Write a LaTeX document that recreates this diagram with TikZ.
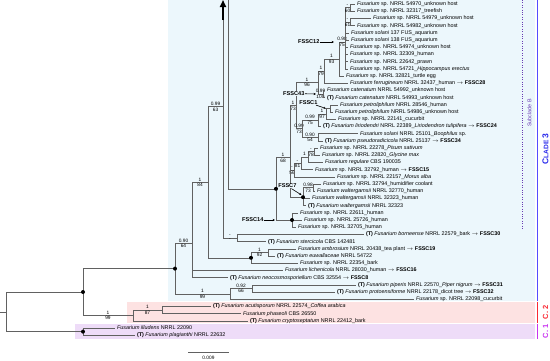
\documentclass[tikz,border=0pt]{standalone}
\usepackage{fontspec}
\setmainfont{Liberation Sans}
\usetikzlibrary{arrows.meta}

\definecolor{bgblue}{RGB}{236,247,252}
\definecolor{bgpink}{RGB}{253,226,226}
\definecolor{bgpurple}{RGB}{238,220,248}
\definecolor{cladeblue}{RGB}{40,40,235}
\definecolor{barblue}{RGB}{85,75,255}
\definecolor{subpurple}{RGB}{105,60,180}
\definecolor{cred}{RGB}{250,40,50}
\definecolor{cmag}{RGB}{200,50,240}

\newcommand{\Ty}{\textbf{(T)} }
\newcommand{\Fs}{\textit{Fusarium} sp.}
\newcommand{\toF}[1]{ $\rightarrow$ \textbf{#1}}

\tikzset{
  br/.style={draw=black!62, line width=0.6pt},
  tip/.style={anchor=west, inner xsep=1.8pt, inner ysep=0pt, text height=3.9pt, text depth=1.1pt, font=\fontsize{5.4}{6}\selectfont},
  pp/.style={pos=0.75, above, inner sep=0.8pt, font=\fontsize{4.8}{5}\selectfont},
  bs/.style={pos=0.75, below, inner sep=0.8pt, font=\fontsize{4.8}{5}\selectfont},
  fssc/.style={anchor=east, inner sep=0.4pt, fill=bgblue, font=\bfseries\fontsize{5.6}{6}\selectfont},
  arr/.style={-{Stealth[length=2.4pt,width=2.2pt]}, line width=0.6pt}
}

\begin{document}
\begin{tikzpicture}[x=1pt,y=-1pt]
  \useasboundingbox (0,0) rectangle (550,360);
  \fill[bgblue] (168,0) rectangle (535,300.8);
  \fill[bgpink] (127,301.8) rectangle (535,322.8);
  \fill[bgpurple] (75,324) rectangle (535,338.5);
  \draw[barblue, line width=1.6pt] (537.6,0) -- (537.6,300.8);
  \draw[cred, line width=1.6pt] (537.6,301.8) -- (537.6,322.8);
  \draw[cmag, line width=1.6pt] (537.6,324) -- (537.6,338.5);
  \draw[subpurple, line width=1pt, dash pattern=on 1pt off 1.4pt] (522,0) -- (522,229);
  \node[rotate=90, text=subpurple, font=\fontsize{5.4}{6}\selectfont] (subB) at (529.5,113) {Subclade B};
  \node[rotate=90, text=cladeblue, font=\bfseries] (clade3) at (545.5,149) {\fontsize{8.5}{9}\selectfont C\fontsize{6.6}{7}\selectfont LADE \fontsize{8.5}{9}\selectfont 3};
  \node[rotate=90, text=cred, font=\bfseries\fontsize{7.5}{8}\selectfont] (cl2) at (545.5,312.3) {C. 2};
  \node[rotate=90, text=cmag, font=\bfseries\fontsize{7.5}{8}\selectfont] (cl1) at (545.5,331.3) {C. 1};

  \coordinate (R0) at (0,311.8);
  \coordinate (root) at (6,311.8);
  \coordinate (A) at (83,292);
  \coordinate (C1) at (83,331.6);
  \coordinate (B) at (175,268.6);
  \coordinate (C2) at (133,315.4);
  \coordinate (AC) at (162,310);
  \coordinate (F) at (192,243.4);
  \coordinate (D) at (230,293.8);
  \coordinate (E) at (252,288.4);
  \coordinate (G) at (208,182.2);
  \coordinate (H) at (251,257.8);
  \coordinate (I) at (268,252.4);
  \coordinate (N1) at (223,106.6);
  \coordinate (NB) at (237,238);
  \coordinate (up) at (223,20);
  \coordinate (top) at (223,0);
  \coordinate (upB) at (228,0);
  \coordinate (SB) at (276,188.8);
  \coordinate (F14) at (292,220);
  \coordinate (SB1) at (290,157.6);
  \coordinate (SB2) at (296,105.6);
  \coordinate (FS7) at (303,197.2);
  \coordinate (Q1) at (313,187.6);
  \coordinate (R3) at (294,170.05);
  \coordinate (R2b) at (301,163.3);
  \coordinate (R2) at (308,157);
  \coordinate (R1) at (314,151.6);
  \coordinate (P4) at (302,128.65);
  \coordinate (P3) at (318,120.1);
  \coordinate (P2) at (326,113.8);
  \coordinate (P1) at (330,108.4);
  \coordinate (P5) at (318,137.2);
  \coordinate (L3) at (318,82.5);
  \coordinate (C43) at (323,94);
  \coordinate (L2) at (324,71.05);
  \coordinate (L1) at (339,58.9);
  \coordinate (K) at (345,41.8);
  \coordinate (K1) at (350,7.6);
  \coordinate (K2) at (350,22);

  \node[tip] (l1) at (355,4) {\Fs{} NRRL 54970\_unknown host};
  \node[tip] (l2) at (355,11.2) {\Fs{} NRRL 32317\_treefish};
  \node[tip] (l3) at (371,18.4) {\Fs{} NRRL 54979\_unknown host};
  \node[tip] (l4) at (355,25.6) {\Fs{} NRRL 54982\_unknown host};
  \node[tip] (l5) at (349,32.8) {\textit{Fusarium solani} 137 FUS\_aquarium};
  \node[tip] (l6) at (349,40) {\textit{Fusarium solani} 138 FUS\_aquarium};
  \node[tip] (l7) at (348,47.2) {\Fs{} NRRL 54974\_unknown host};
  \node[tip] (l8) at (348,54.4) {\Fs{} NRRL 32309\_human};
  \node[tip] (l9) at (348,61.6) {\Fs{} NRRL 22642\_prawn};
  \node[tip] (l10) at (348,68.8) {\Fs{} NRRL 54721\_\textit{Hippocampus erectus}};
  \node[tip] (l11) at (344,76) {\Fs{} NRRL 32821\_turtle egg};
  \node[tip] (l12) at (348,83.2) {\textit{Fusarium ferrugineum} NRRL 32437\_human\toF{FSSC28}};
  \node[tip] (l13) at (325,90.4) {\textit{Fusarium catenatum} NRRL 54992\_unknown host};
  \node[tip] (l14) at (325,97.6) {\Ty\textit{Fusarium catenatum} NRRL 54993\_unknown host};
  \node[tip] (l15) at (338,104.8) {\textit{Fusarium petroliphilum} NRRL 28546\_human};
  \node[tip] (l16) at (333,112) {\textit{Fusarium petroliphilum} NRRL 54986\_unknown host};
  \node[tip] (l17) at (336,119.2) {\Fs{} NRRL 22141\_cucurbit};
  \node[tip] (l18) at (321,126.4) {\Ty\textit{Fusarium liriodendri} NRRL 22389\_\textit{Liriodendron tulipifera}\toF{FSSC24}};
  \node[tip] (l19) at (358,133.6) {\textit{Fusarium solani} NRRL 25101\_\textit{Boophilus} sp.};
  \node[tip] (l20) at (323,140.8) {\Ty\textit{Fusarium pseudoradicicola} NRRL 25137\toF{FSSC34}};
  \node[tip] (l21) at (318,148) {\Fs{} NRRL 22278\_\textit{Pisum sativum}};
  \node[tip] (l22) at (320,155.2) {\Fs{} NRRL 22820\_\textit{Glycine max}};
  \node[tip] (l23) at (323,162.4) {\textit{Fusarium regulare} CBS 190035};
  \node[tip] (l24) at (313,169.6) {\Fs{} NRRL 32792\_human\toF{FSSC15}};
  \node[tip] (l25) at (335,176.8) {\Fs{} NRRL 22157\_\textit{Morus alba}};
  \node[tip] (l26) at (321,184) {\Fs{} NRRL 32794\_humidifier coolant};
  \node[tip] (l27) at (315,191.2) {\textit{Fusarium waltergamsii} NRRL 32770\_human};
  \node[tip] (l28) at (310,198.4) {\textit{Fusarium waltergamsii} NRRL 32323\_human};
  \node[tip] (l29) at (306,205.6) {\Ty\textit{Fusarium waltergamsii} NRRL 32323};
  \node[tip] (l30) at (298,212.8) {\Fs{} NRRL 22611\_human};
  \node[tip] (l31) at (302,220) {\Fs{} NRRL 25726\_human};
  \node[tip] (l32) at (296,227.2) {\Fs{} NRRL 32705\_human};
  \node[tip] (l33) at (364,234.4) {\Ty\textit{Fusarium borneense} NRRL 22579\_bark\toF{FSSC30}};
  \node[tip] (l34) at (266,241.6) {\Ty\textit{Fusarium stercicola} CBS 142481};
  \node[tip] (l35) at (296,248.8) {\textit{Fusarium ambrosium} NRRL 20438\_tea plant\toF{FSSC19}};
  \node[tip] (l36) at (275,256) {\Ty\textit{Fusarium euwallaceae} NRRL 54722};
  \node[tip] (l37) at (298,263.2) {\Fs{} NRRL 22354\_bark};
  \node[tip] (l38) at (283,270.4) {\textit{Fusarium lichenicola} NRRL 28030\_human\toF{FSSC16}};
  \node[tip] (l39) at (228,277.6) {\Ty\textit{Fusarium neocosmosporiellum} CBS 32554\toF{FSSC8}};
  \node[tip] (l40) at (356,284.8) {\Ty\textit{Fusarium piperis} NRRL 22570\_\textit{Piper nigrum}\toF{FSSC31}};
  \node[tip] (l41) at (335,292) {\Ty\textit{Fusarium protoensiforme} NRRL 22178\_dicot tree\toF{FSSC32}};
  \node[tip] (l42) at (414,299.2) {\Fs{} NRRL 22098\_cucurbit};
  \node[tip] (l43) at (211,306.4) {\Ty\textit{Fusarium acutisporum} NRRL 22574\_\textit{Coffea arabica}};
  \node[tip] (l44) at (241,313.6) {\textit{Fusarium phaseoli} CBS 26550};
  \node[tip] (l45) at (248,320.8) {\Ty\textit{Fusarium cryptoseptatum} NRRL 22412\_bark};
  \node[tip] (l46) at (115,328) {\textit{Fusarium illudens} NRRL 22090};
  \node[tip] (l47) at (135,335.2) {\Ty\textit{Fusarium plagianthi} NRRL 22632};

  \draw[br] (R0) -- (root);
  \draw[br] (root) |- (A);
  \draw[br] (root) |- (C1);
  \draw[br] (C1) |- (l46.west);
  \draw[br] (C1) |- (l47.west);
  \draw[br] (A) |- (B);
  \draw[br] (A) |- node[pp]{1} node[bs]{99} (C2);
  \draw[br] (C2) |- node[pp]{1} node[bs]{87} (AC);
  \draw[br] (C2) |- (l45.west);
  \draw[br] (AC) |- (l43.west);
  \draw[br] (AC) |- (l44.west);
  \draw[br] (B) |- node[pp]{0.90} node[bs]{64} (F);
  \draw[br] (B) |- node[pp]{1} node[bs]{99} (D);
  \draw[br] (D) |- node[pp]{0.92} node[bs]{66} (E);
  \draw[br] (D) |- (l42.west);
  \draw[br] (E) |- (l40.west);
  \draw[br] (E) |- (l41.west);
  \draw[br] (F) |- node[pp]{1} node[bs]{84} (G);
  \draw[br] (F) |- (l38.west);
  \draw[br] (F) |- (l39.west);
  \draw[br] (G) |- node[pp]{0.99} node[bs]{63} (N1);
  \draw[br] (G) |- (H);
  \draw[br] (H) |- node[pp]{1} node[bs]{92} (I);
  \draw[br] (H) |- (l37.west);
  \draw[br] (I) |- (l35.west);
  \draw[br] (I) |- (l36.west);
  \draw[br] (N1) -- (up);
  \draw[line width=1.6pt, -{Triangle[length=7pt,width=6pt]}] (up) -- (top);
  \draw[br] (N1) |- node[pp]{-} node[bs]{-} (NB);
  \draw[br] (NB) |- (l33.west);
  \draw[br] (NB) |- (l34.west);
  \draw[br] (upB) |- (SB);
  \draw[br] (SB) |- node[pp]{1} node[bs]{68} (SB1);
  \draw[br] (SB) |- (F14);
  \draw[br] (F14) |- (l30.west);
  \draw[br] (F14) |- (l31.west);
  \draw[br] (F14) |- (l32.west);
  \draw[br] (SB1) |- node[pp]{1} node[bs]{73} (SB2);
  \draw[br] (SB1) |- node[pp]{-} node[bs]{56} (R3);
  \draw[br] (SB1) |- (FS7);
  \draw[br] (FS7) |- node[pp]{0.98} node[bs]{73} (Q1);
  \draw[br] (FS7) |- (l28.west);
  \draw[br] (FS7) |- (l29.west);
  \draw[br] (Q1) |- (l26.west);
  \draw[br] (Q1) |- (l27.west);
  \draw[br] (R3) |- node[pp]{-} node[bs]{81} (R2b);
  \draw[br] (R3) |- (l25.west);
  \draw[br] (R2b) |- node[pp]{1} (R2);
  \draw[br] (R2b) |- (l24.west);
  \draw[br] (R2) |- node[pp]{-} node[bs]{78} (R1);
  \draw[br] (R2) |- (l23.west);
  \draw[br] (R1) |- (l21.west);
  \draw[br] (R1) |- (l22.west);
  \draw[br] (SB2) |- node[pp]{1} node[bs]{96} (L3);
  \draw[br] (SB2) |- node[pp]{0.99} node[bs]{73} (P4);
  \draw[br] (P4) |- node[pp]{0.99} node[bs]{75} (P3);
  \draw[br] (P4) |- node[pp]{0.90} node[bs]{54} (P5);
  \draw[br] (P5) |- (l19.west);
  \draw[br] (P5) |- (l20.west);
  \draw[br] (P3) |- node[pp]{1} node[bs]{97} (P2);
  \draw[br] (P3) |- (l18.west);
  \draw[br] (P2) |- (P1);
  \draw[br] (P2) |- (l17.west);
  \draw[br] (P1) |- (l15.west);
  \draw[br] (P1) |- (l16.west);
  \draw[br] (L3) |- node[pp]{1} node[bs]{79} (L2);
  \draw[br] (L3) |- node[pp]{0.99} node[bs]{100} (C43);
  \draw[br] (C43) |- (l13.west);
  \draw[br] (C43) |- (l14.west);
  \draw[br] (L2) |- node[pp]{1} node[bs]{93} (L1);
  \draw[br] (L2) |- (l12.west);
  \draw[br] (L1) |- node[pp]{0.98} node[bs]{75} (K);
  \draw[br] (L1) |- (l11.west);
  \draw[br] (K) |- node[pp]{-} node[bs]{60} (K1);
  \draw[br] (K) |- node[pp]{-} node[bs]{61} (K2);
  \draw[br] (K) |- (l5.west);
  \draw[br] (K) |- (l6.west);
  \draw[br] (K) |- (l7.west);
  \draw[br] (K) |- (l8.west);
  \draw[br] (K) |- (l9.west);
  \draw[br] (K) |- (l10.west);
  \draw[br] (K1) |- (l1.west);
  \draw[br] (K1) |- (l2.west);
  \draw[br] (K2) |- (l3.west);
  \draw[br] (K2) |- (l4.west);

  \fill (A) circle (2pt);
  \fill (C1) circle (2pt);
  \fill (B) circle (2pt);
  \fill (H) circle (2pt);
  \fill (SB) circle (2pt);
  \fill (F14) circle (2pt);
  \fill (FS7) circle (2pt);

  \node[fssc] (f12) at (320,42) {FSSC12};
  \coordinate (a12) at (334,42);
  \draw[arr] (f12) -- (a12);
  \node[fssc] (f43) at (305,93.5) {FSSC43};
  \coordinate (a43) at (316,94);
  \draw[arr] (f43) -- (a43);
  \node[fssc] (f1) at (318,102.5) {FSSC1};
  \coordinate (a1) at (326,108.5);
  \draw[arr] (f1) -- (a1);
  \node[fssc] (f7) at (297,186) {FSSC7};
  \coordinate (a7) at (301.5,195);
  \draw[arr] (f7) -- (a7);
  \node[fssc] (f14) at (264,220) {FSSC14};
  \coordinate (a14) at (275,220);
  \draw[arr] (f14) -- (a14);

  \coordinate (s0) at (188,352);
  \coordinate (s1) at (229,352);
  \draw[br] (s0) -- (s1) node[midway, below=0.5pt, font=\fontsize{4.8}{5}\selectfont] (scl) {0.009};
\end{tikzpicture}
\end{document}
